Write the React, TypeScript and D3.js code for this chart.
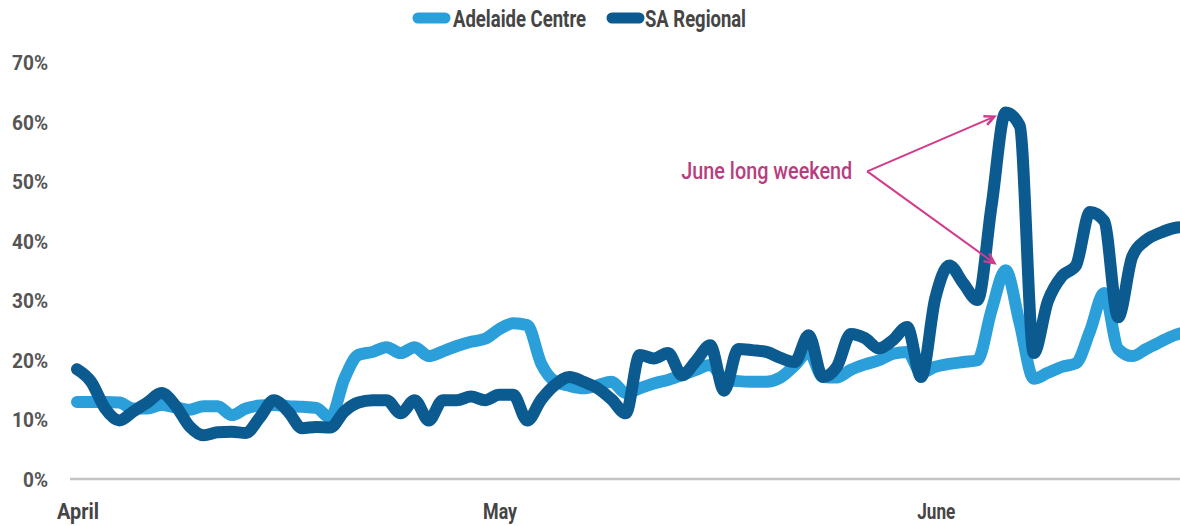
import React from "react";
import * as d3 from "d3";

// Daily share of visits, 1 April – 19 June
const startDate = new Date(Date.UTC(2021, 3, 1));
const adelaideCentre = [
  13.1, 13.1, 13.1, 13.0, 12.0, 12.0, 12.6, 12.2, 11.8, 12.4,
  12.4, 10.9, 12.0, 12.5, 12.6, 12.4, 12.3, 12.1, 10.4, 17.0,
  21.0, 21.5, 22.3, 21.3, 22.3, 20.8, 21.6, 22.5, 23.2, 23.7,
  25.3, 26.3, 26.0, 19.5, 16.5, 15.8, 15.4, 15.9, 16.5, 14.6,
  15.4, 16.2, 16.8, 17.6, 18.5, 19.3, 17.0, 16.6, 16.5, 16.5,
  17.2, 19.2, 21.5, 17.3, 17.2, 18.5, 19.4, 20.1, 21.2, 21.5,
  18.0, 19.0, 19.5, 19.8, 20.1, 28.5, 35.2, 26.3, 17.0, 18.0,
  19.0, 19.6, 25.0, 31.4, 22.0, 20.8, 22.0, 23.2, 24.3, 25.0,
];
const saRegional = [
  18.6, 16.5, 12.0, 10.0, 11.5, 13.0, 14.6, 12.5, 9.0, 7.5,
  8.0, 8.1, 7.9, 10.5, 13.4, 11.5, 8.7, 8.9, 8.8, 11.5,
  13.0, 13.4, 13.4, 11.2, 13.4, 10.0, 13.4, 13.4, 14.0, 13.4,
  14.3, 14.3, 10.0, 13.5, 16.0, 17.3, 16.5, 15.4, 13.5, 11.2,
  21.0, 20.4, 21.3, 17.6, 20.0, 22.6, 15.0, 22.0, 21.8, 21.5,
  20.5, 19.8, 24.3, 17.3, 19.0, 24.5, 23.8, 22.1, 23.5, 25.7,
  17.3, 30.5, 36.0, 33.0, 30.2, 46.0, 61.7, 59.5, 21.3, 30.0,
  34.2, 36.0, 45.0, 43.5, 27.3, 37.5, 40.3, 41.5, 42.3, 42.5,
];
const seriesNames = ["Adelaide Centre", "SA Regional"];
const seriesColors = ["#2a9fd9", "#0b5b91"];
const yTicks = [0, 10, 20, 30, 40, 50, 60, 70];
const monthTicks = [
  new Date(Date.UTC(2021, 3, 1)),
  new Date(Date.UTC(2021, 4, 1)),
  new Date(Date.UTC(2021, 5, 1)),
];
const monthLabels = ["April", "May", "June"];
const annotationText = "June long weekend";

const W = 1180;
const H = 526;
const FONT = "Roboto, 'Noto Sans', sans-serif";

const dayMs = 86400000;
const dateOf = (i: number) => new Date(startDate.getTime() + i * dayMs);

// condensed look: squeeze glyphs to a set advance width
const monthWidths = [42, 34, 38];
const legendWidths = [133, 101];

export default function App() {
  const x = d3
    .scaleUtc()
    .domain([dateOf(0), dateOf(78)])
    .range([77, 77 + 78 * 14.07]);
  const y = d3.scaleLinear().domain([0, 70]).range([480, 63]);

  const line = d3
    .line<number>()
    .x((_, i) => x(dateOf(i)))
    .y((v) => y(v))
    .curve(d3.curveMonotoneX);

  const series = [adelaideCentre, saRegional];

  // annotation geometry anchored to the data scales
  const labelRight = x(dateOf(55.1));
  const labelY = y(51.8);
  const fromPt: [number, number] = [labelRight + 15, labelY];
  const arrowTargets: [number, number][] = [
    [x(dateOf(65.2)), y(61.0)],
    [x(dateOf(65.2)), y(36.4)],
  ];

  const arrowHead = (from: [number, number], to: [number, number]) => {
    const ang = Math.atan2(to[1] - from[1], to[0] - from[0]);
    const len = 11;
    const spread = 0.45;
    const p1 = [to[0] - len * Math.cos(ang - spread), to[1] - len * Math.sin(ang - spread)];
    const p2 = [to[0] - len * Math.cos(ang + spread), to[1] - len * Math.sin(ang + spread)];
    return `M${p1[0]},${p1[1]}L${to[0]},${to[1]}L${p2[0]},${p2[1]}`;
  };

  return (
    <svg
      width={W}
      height={H}
      style={{ position: "absolute", left: 0, top: 0, background: "#fff" }}
      fontFamily={FONT}
    >
      {/* legend */}
      <g fontSize={23} fontWeight="bold" fill="#454545">
        <line x1={418} x2={445} y1={18} y2={18} stroke={seriesColors[0]} strokeWidth={11} strokeLinecap="round" />
        <text x={453} y={26.5} textLength={legendWidths[0]} lengthAdjust="spacingAndGlyphs">
          {seriesNames[0]}
        </text>
        <line x1={612} x2={639} y1={18} y2={18} stroke={seriesColors[1]} strokeWidth={11} strokeLinecap="round" />
        <text x={645} y={26.5} textLength={legendWidths[1]} lengthAdjust="spacingAndGlyphs">
          {seriesNames[1]}
        </text>
      </g>

      {/* y axis labels */}
      <g fontSize={20} fontWeight="bold" fill="#555">
        {yTicks.map((t) => {
          const w = t === 0 ? 25 : 36;
          return (
            <text key={t} x={48 - w} y={y(t) + 7} textLength={w} lengthAdjust="spacingAndGlyphs">
              {t}%
            </text>
          );
        })}
      </g>

      {/* baseline */}
      <line x1={70} x2={W} y1={y(0) - 1} y2={y(0) - 1} stroke="#c4c4c4" strokeWidth={2.5} />

      {/* month labels */}
      <g fontSize={22.5} fontWeight="bold" fill="#454545">
        {monthTicks.map((m, i) => (
          <text
            key={i}
            x={x(m) + 1 - monthWidths[i] / 2}
            y={519}
            textLength={monthWidths[i]}
            lengthAdjust="spacingAndGlyphs"
          >
            {monthLabels[i]}
          </text>
        ))}
      </g>

      {/* series */}
      <g>
        {series.map((s, i) => (
          <path
            key={i}
            d={line(s) ?? ""}
            fill="none"
            stroke={seriesColors[i]}
            strokeWidth={12}
            strokeLinecap="round"
            strokeLinejoin="round"
          />
        ))}
      </g>

      {/* annotation */}
      <text
        x={labelRight - 171}
        y={labelY + 8}
        fontSize={23}
        fontWeight={500}
        fill="#b83d7e"
        textLength={171}
        lengthAdjust="spacingAndGlyphs"
      >
        {annotationText}
      </text>
      <g stroke="#d23a8b" strokeWidth={2} fill="none">
        {arrowTargets.map((t, i) => (
          <g key={i}>
            <line x1={fromPt[0]} y1={fromPt[1]} x2={t[0]} y2={t[1]} />
            <path d={arrowHead(fromPt, t)} strokeWidth={2.5} />
          </g>
        ))}
      </g>
    </svg>
  );
}
